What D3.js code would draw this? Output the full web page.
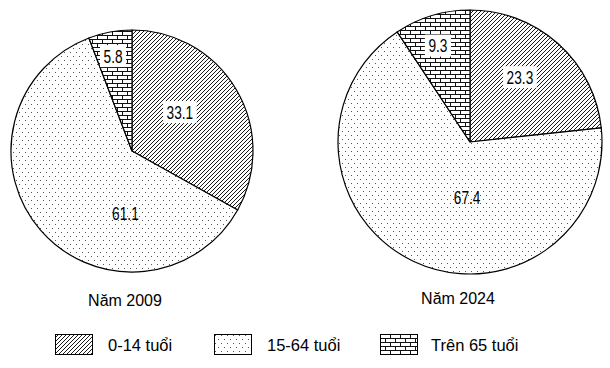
<!DOCTYPE html>
<html>
<head>
<meta charset="utf-8">
<script src="https://cdn.jsdelivr.net/npm/d3@7"></script>
<style>
  body { margin: 0; background: #fff; }
  svg text { font-family: "Liberation Sans", Arial, sans-serif; fill: #000; }
</style>
</head>
<body>
<div class="chart"></div>
<script>
// data
const groups = ["0-14 tuổi", "15-64 tuổi", "Trên 65 tuổi"];
const years = ["Năm 2009", "Năm 2024"];
const values2009 = [33.1, 61.1, 5.8];
const values2024 = [23.3, 67.4, 9.3];

// layout
const width = 610, height = 368;
const pies = [
  { year: years[0], values: values2009, cx: 132, cy: 151, r: 121, titleX: 125, titleY: 300,
    // label angle (deg from top, clockwise) and radius fraction, placed by hand like the original
    lab: [[50.9, 0.51], [186, 0.52], [348.7, 0.80]] },
  { year: years[1], values: values2024, cx: 470, cy: 142, r: 132, titleX: 458, titleY: 298,
    lab: [[37.6, 0.62], [183, 0.42], [341.6, 0.77]] }
];
const patIds = ["hatch", "dots", "brick"];
const labelBox = [true, false, true];
const narrow = 0.74;

const svg = d3.select(".chart").append("svg")
    .attr("width", width)
    .attr("height", height);

const defs = svg.append("defs");

// diagonal hatch
let p = defs.append("pattern")
    .attr("id", "hatch")
    .attr("width", 4).attr("height", 4)
    .attr("patternUnits", "userSpaceOnUse");
p.append("rect").attr("width", 4).attr("height", 4).attr("fill", "#fff");
p.append("path")
    .attr("d", "M0,4 L4,0 M-1,1 L1,-1 M3,5 L5,3")
    .attr("stroke", "#1a1a1a").attr("stroke-width", 1);

// sparse dots
p = defs.append("pattern")
    .attr("id", "dots")
    .attr("width", 6).attr("height", 8)
    .attr("patternUnits", "userSpaceOnUse");
p.append("rect").attr("width", 6).attr("height", 8).attr("fill", "#fff");
p.append("rect").attr("x", 1).attr("y", 1).attr("width", 1).attr("height", 1).attr("fill", "#555");
p.append("rect").attr("x", 4).attr("y", 5).attr("width", 1).attr("height", 1).attr("fill", "#555");

// brick
p = defs.append("pattern")
    .attr("id", "brick")
    .attr("width", 10).attr("height", 8)
    .attr("patternUnits", "userSpaceOnUse");
p.append("rect").attr("width", 10).attr("height", 8).attr("fill", "#fff");
p.append("path")
    .attr("d", "M0,0.5 H10 M0,4.5 H10 M0.5,0.5 V4.5 M5.5,4.5 V8.5")
    .attr("stroke", "#111").attr("stroke-width", 1).attr("fill", "none");

const pie = d3.pie().sort(null).value(d => d);

pies.forEach(function(cfg) {
  const arc = d3.arc().innerRadius(0).outerRadius(cfg.r);
  const g = svg.append("g")
      .attr("transform", "translate(" + cfg.cx + "," + cfg.cy + ")");

  g.selectAll("path")
      .data(pie(cfg.values))
      .enter()
      .append("path")
      .attr("d", arc)
      .attr("fill", (d, i) => "url(#" + patIds[i] + ")")
      .attr("stroke", "#000")
      .attr("stroke-width", 1.2)
      .attr("stroke-linejoin", "round");

  const lab = g.selectAll(".lab")
      .data(cfg.values)
      .enter()
      .append("g")
      .attr("class", "lab")
      .attr("transform", function(d, i) {
        const a = cfg.lab[i][0] * Math.PI / 180;
        const rr = cfg.lab[i][1] * cfg.r;
        return "translate(" + (Math.sin(a) * rr) + "," + (-Math.cos(a) * rr) + ")";
      });

  // narrow label font
  lab.append("text")
      .attr("text-anchor", "middle")
      .attr("dy", "0.36em")
      .attr("transform", "scale(" + narrow + ",1)")
      .style("font-size", "18.5px")
      .text(d => d.toFixed(1));

  lab.each(function(d, i) {
    if (!labelBox[i]) return;
    const bb = d3.select(this).select("text").node().getBBox();
    const w = bb.width * narrow + 7;
    d3.select(this).insert("rect", "text")
        .attr("x", -w / 2).attr("y", -11)
        .attr("width", w).attr("height", 22)
        .attr("fill", "#fff");
  });

  svg.append("text")
      .attr("x", cfg.titleX)
      .attr("y", cfg.titleY)
      .attr("text-anchor", "middle")
      .attr("dy", "0.36em")
      .style("font-size", "16px")
      .text(cfg.year);
});

// legend
const legX = [55, 214, 380];
const leg = svg.selectAll(".leg")
    .data(groups)
    .enter()
    .append("g")
    .attr("class", "leg")
    .attr("transform", (d, i) => "translate(" + legX[i] + ",334)");

leg.append("rect")
    .attr("x", 0.5).attr("y", 0.5)
    .attr("width", 37).attr("height", 20)
    .attr("fill", (d, i) => "url(#" + patIds[i] + ")")
    .attr("stroke", "#000")
    .attr("stroke-width", 1);

leg.append("text")
    .attr("x", (d, i) => i === 2 ? 51 : 53)
    .attr("y", 11)
    .attr("dy", "0.36em")
    .style("font-size", "16.5px")
    .text(d => d);
</script>
</body>
</html>
